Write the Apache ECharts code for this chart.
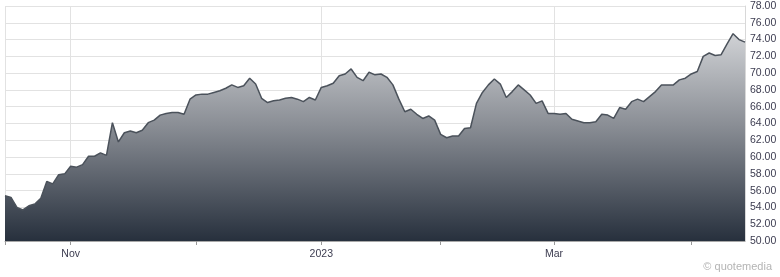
<!DOCTYPE html>
<html>
<head>
<meta charset="utf-8">
<script src="https://cdn.jsdelivr.net/npm/echarts@6/dist/echarts.min.js"></script>
<style>
html,body{margin:0;padding:0;background:#fff;}
#chart{width:780px;height:277px;}
</style>
</head>
<body>
<div id="chart"></div>
<script>
// Trading days, Oct 17 2022 – Apr 17 2023
const dates = [
"2022-10-17","2022-10-18","2022-10-19","2022-10-20","2022-10-21","2022-10-24","2022-10-25","2022-10-26","2022-10-27","2022-10-28","2022-10-31",
"2022-11-01","2022-11-02","2022-11-03","2022-11-04","2022-11-07","2022-11-08","2022-11-09","2022-11-10","2022-11-11","2022-11-14","2022-11-15","2022-11-16","2022-11-17","2022-11-18","2022-11-21","2022-11-22","2022-11-23","2022-11-25","2022-11-28","2022-11-29","2022-11-30",
"2022-12-01","2022-12-02","2022-12-05","2022-12-06","2022-12-07","2022-12-08","2022-12-09","2022-12-12","2022-12-13","2022-12-14","2022-12-15","2022-12-16","2022-12-19","2022-12-20","2022-12-21","2022-12-22","2022-12-23","2022-12-27","2022-12-28","2022-12-29","2022-12-30",
"2023-01-03","2023-01-04","2023-01-05","2023-01-06","2023-01-09","2023-01-10","2023-01-11","2023-01-12","2023-01-13","2023-01-17","2023-01-18","2023-01-19","2023-01-20","2023-01-23","2023-01-24","2023-01-25","2023-01-26","2023-01-27","2023-01-30","2023-01-31",
"2023-02-01","2023-02-02","2023-02-03","2023-02-06","2023-02-07","2023-02-08","2023-02-09","2023-02-10","2023-02-13","2023-02-14","2023-02-15","2023-02-16","2023-02-17","2023-02-21","2023-02-22","2023-02-23","2023-02-24","2023-02-27","2023-02-28",
"2023-03-01","2023-03-02","2023-03-03","2023-03-06","2023-03-07","2023-03-08","2023-03-09","2023-03-10","2023-03-13","2023-03-14","2023-03-15","2023-03-16","2023-03-17","2023-03-20","2023-03-21","2023-03-22","2023-03-23","2023-03-24","2023-03-27","2023-03-28","2023-03-29","2023-03-30","2023-03-31",
"2023-04-03","2023-04-04","2023-04-05","2023-04-06","2023-04-10","2023-04-11","2023-04-12","2023-04-13","2023-04-14","2023-04-17"
];

const prices = [
55.4,55.2,54.0,53.7,54.2,54.4,55.1,57.1,56.8,57.9,58.0,
58.9,58.8,59.1,60.1,60.1,60.5,60.2,64.1,61.8,62.9,63.1,62.9,63.2,64.1,64.4,65.0,65.2,65.3,65.3,65.1,
66.9,67.4,67.5,67.5,67.7,67.9,68.2,68.6,68.3,68.5,69.4,68.7,67.0,66.5,66.7,66.8,67.0,67.1,66.9,66.6,67.1,66.8,
68.3,68.5,68.8,69.7,69.9,70.5,69.5,69.1,70.1,69.8,69.9,69.5,68.6,66.9,65.4,65.7,65.1,64.6,64.9,64.4,
62.7,62.3,62.5,62.5,63.4,63.5,66.4,67.7,68.6,69.3,68.7,67.1,67.8,68.6,68.0,67.4,66.4,66.7,65.2,
65.2,65.1,65.2,64.5,64.3,64.1,64.1,64.2,65.1,65.0,64.6,65.9,65.7,66.6,66.9,66.6,67.2,67.8,68.6,68.6,68.6,69.2,69.4,
69.9,70.2,72.0,72.4,72.1,72.2,73.5,74.7,74.0,73.7
];

// Axis labels
const labeledDates = {"2022-11-01":"Nov","2023-01-03":"2023","2023-03-01":"Mar"};
const tickDates = ["2022-10-17","2022-11-01","2022-12-01","2023-01-03","2023-02-01","2023-03-01","2023-04-03"];
const gridDates = ["2022-10-17","2022-11-01","2023-01-03","2023-03-01"];
const yMin = 50, yMax = 78, yStep = 2;

const chart = echarts.init(document.getElementById('chart'), null, {renderer:'canvas'});
const FONT = '"Liberation Sans", Arial, sans-serif';
chart.setOption({
  animation:false,
  grid:{left:5,right:35,top:6,bottom:36,containLabel:false},
  xAxis:{
    type:'category',
    data:dates,
    boundaryGap:false,
    axisLine:{show:true,lineStyle:{color:'#a8a8a8',width:1}},
    axisTick:{show:true,length:4,lineStyle:{color:'#999'},
      interval:(i,v)=>tickDates.indexOf(v)>=0},
    axisLabel:{
      interval:(i,v)=>labeledDates[v]!==undefined,
      formatter:(v)=>labeledDates[v]||'',
      color:'#3c3c50',fontSize:10.5,fontFamily:FONT,margin:8
    },
    splitLine:{show:true,lineStyle:{color:'#e2e2e2',width:1},
      interval:(i,v)=>gridDates.indexOf(v)>=0}
  },
  yAxis:{
    type:'value',
    position:'right',
    min:yMin,max:yMax,interval:yStep,
    axisLine:{show:true,lineStyle:{color:'#d8d8d8'}},
    axisTick:{show:false},
    axisLabel:{formatter:(v)=>v.toFixed(2),color:'#3c3c50',fontSize:10.5,fontFamily:FONT,margin:5},
    splitLine:{show:true,lineStyle:{color:'#e2e2e2',width:1}}
  },
  series:[{
    type:'line',
    data:prices,
    symbol:'none',
    smooth:false,
    lineStyle:{color:'#4b525b',width:1.5},
    areaStyle:{
      opacity:1,
      color:new echarts.graphic.LinearGradient(0,30,0,241,[
        {offset:0,color:'#d3d5d8'},
        {offset:0.45,color:'#8a8e95'},
        {offset:1,color:'#27303d'}
      ],true)
    }
  }],
  graphic:[{
    type:'text',
    right:8,top:261,
    style:{text:'© quotemedia',fill:'#b4b4b4',font:'11px '+FONT}
  }]
});
</script>
</body>
</html>
